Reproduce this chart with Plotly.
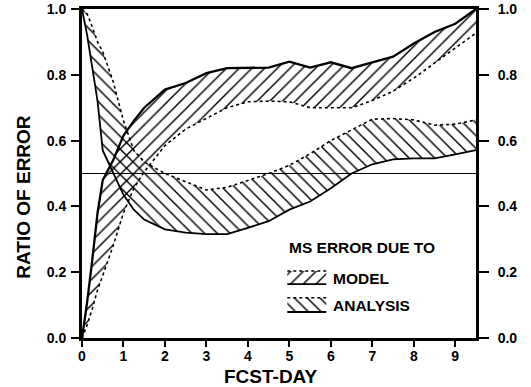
import plotly.graph_objects as go

# ---- data ----
DAYS = [0, 0.125, 0.25, 0.375, 0.5, 0.75, 1.0, 1.25, 1.5, 2.0, 2.5, 3.0, 3.5, 4.0,
        4.5, 5.0, 5.5, 6.0, 6.5, 7.0, 7.5, 8.0, 8.5, 9.0, 9.5]

MODEL_UPPER = [0.0, 0.11, 0.24, 0.38, 0.48, 0.54, 0.615, 0.66, 0.70, 0.755, 0.775, 0.805,
               0.82, 0.822, 0.822, 0.84, 0.822, 0.838, 0.82, 0.838, 0.855, 0.895, 0.93,
               0.955, 1.0]
MODEL_LOWER = [0.0, 0.04, 0.09, 0.146, 0.19, 0.28, 0.38, 0.455, 0.505, 0.585, 0.635, 0.668,
               0.70, 0.718, 0.72, 0.718, 0.70, 0.70, 0.70, 0.722, 0.75, 0.79, 0.835,
               0.88, 0.927]

ANALYSIS_UPPER = [1.0, 0.985, 0.945, 0.90, 0.87, 0.78, 0.66, 0.57, 0.535, 0.50, 0.475, 0.45,
                  0.458, 0.478, 0.50, 0.525, 0.56, 0.60, 0.632, 0.665, 0.667, 0.663, 0.647,
                  0.65, 0.663]
ANALYSIS_LOWER = [1.0, 0.92, 0.82, 0.72, 0.57, 0.50, 0.435, 0.39, 0.36, 0.33, 0.32, 0.316,
                  0.316, 0.335, 0.355, 0.39, 0.415, 0.455, 0.50, 0.528, 0.543, 0.546, 0.546,
                  0.558, 0.571]

REFERENCE_LEVEL = 0.5
X_TICKS = [0, 1, 2, 3, 4, 5, 6, 7, 8, 9]
Y_TICKS = [0.0, 0.2, 0.4, 0.6, 0.8, 1.0]
X_TITLE = "FCST-DAY"
Y_TITLE = "RATIO OF ERROR"
LEGEND_TITLE = "MS ERROR DUE TO"
SERIES_NAMES = ["MODEL", "ANALYSIS"]

FONT = "Liberation Sans, Arial, sans-serif"
CLEAR = "rgba(0,0,0,0)"


def band(x, upper, lower, shape):
    return go.Scatter(
        x=list(x) + list(x)[::-1],
        y=list(upper) + list(lower)[::-1],
        mode="lines", fill="toself", line=dict(width=0, color=CLEAR),
        fillcolor=CLEAR,
        fillpattern=dict(shape=shape, size=9, solidity=0.16,
                         fgcolor="black", bgcolor=CLEAR, fillmode="replace"),
        hoverinfo="skip", showlegend=False)


fig = go.Figure()
fig.add_trace(band(DAYS, MODEL_UPPER, MODEL_LOWER, "/"))
fig.add_trace(band(DAYS, ANALYSIS_UPPER, ANALYSIS_LOWER, "\\"))

fig.add_trace(go.Scatter(x=DAYS, y=MODEL_UPPER, mode="lines",
                         line=dict(color="black", width=2.3), showlegend=False))
fig.add_trace(go.Scatter(x=DAYS, y=MODEL_LOWER, mode="lines",
                         line=dict(color="black", width=1.6, dash="dot"), showlegend=False))
fig.add_trace(go.Scatter(x=DAYS, y=ANALYSIS_LOWER, mode="lines",
                         line=dict(color="black", width=1.8), showlegend=False))
fig.add_trace(go.Scatter(x=DAYS, y=ANALYSIS_UPPER, mode="lines",
                         line=dict(color="black", width=1.6, dash="dot"), showlegend=False))

# ---- custom legend (swatches) ----
SW_X0, SW_X1 = 4.95, 5.89
SWATCHES = [("/", 0.204, 0.164), ("\\", 0.122, 0.079)]
for shape, top, bot in SWATCHES:
    fig.add_trace(band([SW_X0, SW_X1], [top, top], [bot, bot], shape))
    fig.add_trace(go.Scatter(x=[SW_X0, SW_X1], y=[top, top], mode="lines",
                             line=dict(color="black", width=1.5, dash="dot"),
                             showlegend=False, hoverinfo="skip"))
    fig.add_trace(go.Scatter(x=[SW_X0, SW_X1], y=[bot, bot], mode="lines",
                             line=dict(color="black", width=1.8),
                             showlegend=False, hoverinfo="skip"))

fig.add_annotation(x=SW_X0, y=0.275, xref="x", yref="y", text=LEGEND_TITLE,
                   showarrow=False, xanchor="left", yanchor="middle",
                   font=dict(family=FONT, size=15.5, color="black", weight="bold"))
for name, (shape, top, bot) in zip(SERIES_NAMES, SWATCHES):
    fig.add_annotation(x=6.0, y=(top + bot) / 2 - 0.002, xref="x", yref="y", text=name,
                       showarrow=False, xanchor="left", yanchor="middle",
                       font=dict(family=FONT, size=15.5, color="black", weight="bold"))

# invisible trace for right axis
fig.add_trace(go.Scatter(x=[0], y=[0], yaxis="y2", mode="markers",
                         marker=dict(opacity=0), showlegend=False, hoverinfo="skip"))

fig.add_shape(type="line", xref="x", yref="y", x0=0, x1=9.5,
              y0=REFERENCE_LEVEL, y1=REFERENCE_LEVEL,
              line=dict(color="black", width=1.1))

tickfont = dict(family=FONT, size=14, color="black", weight="bold")
fig.update_layout(
    width=531, height=387,
    margin=dict(l=82, r=55, t=9, b=49, autoexpand=False),
    paper_bgcolor="white", plot_bgcolor="white",
    showlegend=False,
    xaxis=dict(range=[0, 9.5], tickvals=X_TICKS, ticks="outside", ticklen=6,
               tickwidth=1.5, tickcolor="black", showline=True, linewidth=2.5,
               linecolor="black", mirror=True, showgrid=False, zeroline=False,
               tickfont=tickfont, automargin=False, ticklabelstandoff=-3),
    yaxis=dict(range=[0, 1], tickvals=Y_TICKS, tickformat=".1f", ticks="outside",
               ticklen=8, tickwidth=1.5, tickcolor="black", showline=True,
               linewidth=2.8, linecolor="black", showgrid=False, zeroline=False,
               tickfont=tickfont, ticklabelstandoff=2, automargin=False),
    yaxis2=dict(range=[0, 1], tickvals=Y_TICKS, tickformat=".1f", overlaying="y",
                side="right", ticks="outside", ticklen=10, tickwidth=1.5,
                tickcolor="black", showline=True, linewidth=2.8, linecolor="black",
                showgrid=False, zeroline=False, tickfont=tickfont,
                ticklabelstandoff=6, automargin=False),
)

fig.add_annotation(x=0.48, y=-0.118, xref="paper", yref="paper", text=X_TITLE,
                   showarrow=False, xanchor="center", yanchor="middle",
                   font=dict(family=FONT, size=19, color="black", weight="bold"))
fig.add_annotation(x=-0.148, y=0.4286, xref="paper", yref="paper", text=Y_TITLE,
                   textangle=-90, showarrow=False, xanchor="center", yanchor="middle",
                   font=dict(family=FONT, size=19, color="black", weight="bold"))

fig.write_html("out.html", config={"displayModeBar": False},
               post_script="document.body.style.margin='0';")
